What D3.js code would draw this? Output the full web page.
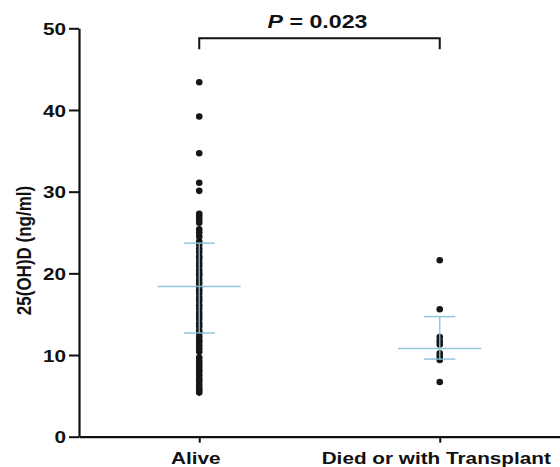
<!DOCTYPE html>
<html>
<head>
<meta charset="utf-8">
<script src="https://cdn.jsdelivr.net/npm/d3@7"></script>
<style>
  body { margin: 0; background: #fff; }
  svg { display: block; }
</style>
</head>
<body>
<svg id="chart"></svg>
<script>

  // ---------------------------//
  //            DATA            //
  // ---------------------------//

    var groups = ["Alive", "Died or with Transplant"];

    var aliveValues = [43.4, 39.2, 34.7, 31.1, 30.1, 27.3, 27.0, 26.6, 26.2, 25.4, 25.0, 24.5,
        23.9, 23.5, 23.0, 22.6, 22.1, 21.8, 21.3, 20.9, 20.4, 20.0, 19.7, 19.2, 18.8, 18.3,
        17.9, 17.5, 17.0, 16.6, 16.1, 15.7, 15.2, 14.8, 14.4, 13.9, 13.5, 13.0, 12.7, 12.3,
        11.9, 11.6, 11.2, 10.8, 10.4, 9.7, 9.3, 9.0, 8.6, 8.2, 7.9, 7.5, 7.1, 6.8, 6.4, 6.0,
        5.7, 5.4];

    var diedValues = [21.6, 15.6, 12.2, 11.7, 11.3, 10.2, 9.8, 9.4, 6.7];

    var means = [18.4, 10.8];
    var errUpper = [23.7, 14.7];
    var errLower = [12.7, 9.5];

    var yTicks = [0, 10, 20, 30, 40, 50];
    var pLabel = "0.023";

  // ---------------------------//
  //         DIMENSIONS         //
  // ---------------------------//

    var width = 560;
    var height = 467;
    var margin = { top: 28.3, right: 0, bottom: 30.3, left: 79 };
    var stretch = 1.22;   // the original type is set wide
    var font = "'Liberation Sans', Arial, sans-serif";
    var blue = "#86c0d6";

  // ---------------------------//
  //       AXIS  AND SCALE      //
  // ---------------------------//

    var x = d3.scalePoint()
        .domain(groups)
        .range([margin.left, width - margin.right])
        .padding(0.5);

    var y = d3.scaleLinear()
        .domain([0, 50])
        .range([height - margin.bottom, margin.top]);

  // ---------------------------//
  //          CONTAINER         //
  // ---------------------------//

    var svg = d3.select("#chart")
        .attr("width", width)
        .attr("height", height)
        .style("font-family", font);

  // ---------------------------//
  //           DOTS             //
  // ---------------------------//

    var points = [];
    aliveValues.forEach(function(v) { points.push({ g: groups[0], v: v }); });
    diedValues.forEach(function(v) { points.push({ g: groups[1], v: v }); });

    svg.append("g")
        .selectAll("circle")
        .data(points)
        .enter().append("circle")
        .attr("cx", d => x(d.g))
        .attr("cy", d => y(d.v))
        .attr("r", 3.3)
        .attr("fill", "#161616");

  // ---------------------------//
  //       MEAN AND ERROR       //
  // ---------------------------//

    var stats = groups.map(function(g, i) {
        return { g: g, mean: means[i], hi: errUpper[i], lo: errLower[i] };
    });

    var err = svg.append("g")
        .attr("stroke", blue)
        .attr("stroke-width", 1.5)
        .attr("stroke-opacity", 0.9);

    err.selectAll(".mean")
        .data(stats)
        .enter().append("line")
        .attr("x1", d => x(d.g) - 41.5)
        .attr("x2", d => x(d.g) + 41.5)
        .attr("y1", d => y(d.mean))
        .attr("y2", d => y(d.mean));

    err.selectAll(".stem")
        .data(stats)
        .enter().append("line")
        .attr("x1", d => x(d.g))
        .attr("x2", d => x(d.g))
        .attr("y1", d => y(d.hi))
        .attr("y2", d => y(d.lo));

    ["hi", "lo"].forEach(function(k) {
        err.selectAll(".cap-" + k)
            .data(stats)
            .enter().append("line")
            .attr("x1", d => x(d.g) - 15.5)
            .attr("x2", d => x(d.g) + 15.5)
            .attr("y1", d => y(d[k]))
            .attr("y2", d => y(d[k]));
    });

  // ---------------------------//
  //            AXES            //
  // ---------------------------//

    var yAxis = svg.append("g")
        .attr("transform", "translate(" + margin.left + ",0)")
        .call(d3.axisLeft(y).tickValues(yTicks).tickSize(10).tickPadding(3).tickSizeOuter(0));

    var xAxis = svg.append("g")
        .attr("transform", "translate(0," + (height - margin.bottom) + ")")
        .call(d3.axisBottom(x).tickSize(6).tickPadding(6).tickSizeOuter(0));

    [yAxis, xAxis].forEach(function(a) {
        a.select(".domain").attr("stroke", "#111").attr("stroke-width", 2.2);
        a.selectAll(".tick line").attr("stroke", "#111").attr("stroke-width", 2);
        a.selectAll("text")
            .attr("fill", "#111")
            .style("font-family", font)
            .style("font-weight", "bold")
            .style("font-size", "17px");
    });

    // stretch tick labels horizontally around their anchor
    yAxis.selectAll(".tick text")
        .attr("transform", "translate(-13,0) scale(" + stretch + ",1)")
        .attr("x", 0)
        .attr("dy", "0.36em");

    xAxis.selectAll(".tick text")
        .attr("transform", "translate(-4,0) scale(" + stretch + ",1)")
        .attr("dy", "0.9em");

    // y axis title (rotated, so the wide type shows as taller glyphs)
    svg.append("text")
        .attr("transform", "translate(31," + ((y(0) + y(50)) / 2 + 18) + ") rotate(-90) scale(1," + stretch + ")")
        .attr("text-anchor", "middle")
        .style("font-size", "17px")
        .style("font-weight", "bold")
        .attr("fill", "#111")
        .text("25(OH)D (ng/ml)");

  // ---------------------------//
  //       SIGNIFICANCE BAR     //
  // ---------------------------//

    var barY = 38.3;
    svg.append("path")
        .attr("d", "M" + x(groups[0]) + "," + (barY + 11) +
                   "V" + barY + "H" + x(groups[1]) + "V" + (barY + 11))
        .attr("fill", "none")
        .attr("stroke", "#111")
        .attr("stroke-width", 2);

    var pText = svg.append("text")
        .attr("transform", "translate(" + ((x(groups[0]) + x(groups[1])) / 2 - 2) + ",28.3) scale(" + stretch + ",1)")
        .attr("text-anchor", "middle")
        .style("font-size", "19px")
        .style("font-weight", "bold")
        .attr("fill", "#111");

    pText.append("tspan").style("font-style", "italic").text("P");
    pText.append("tspan").text(" = " + pLabel);

</script>
</body>
</html>
